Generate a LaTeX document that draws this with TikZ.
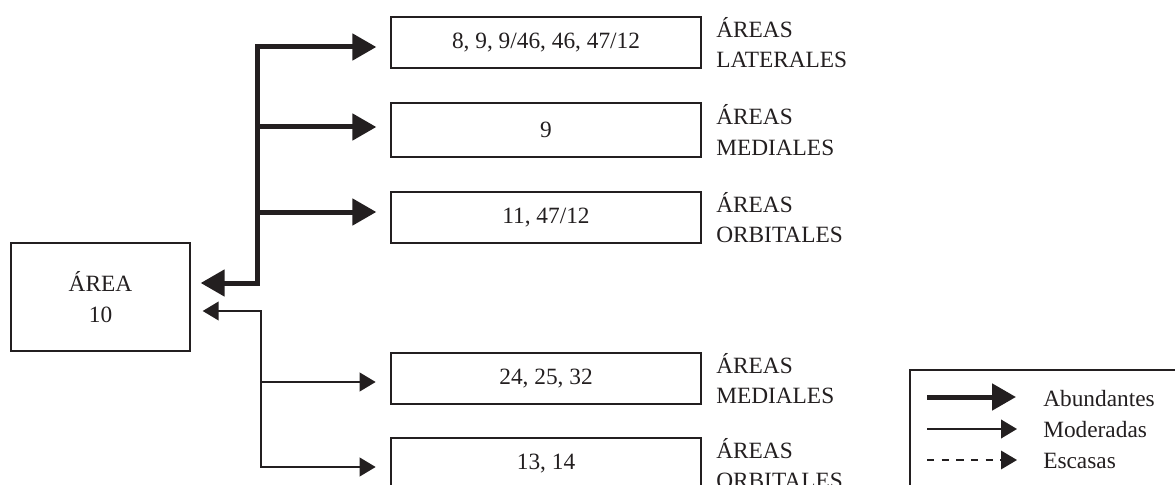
\documentclass[tikz,border=0pt]{standalone}
\usepackage{fontspec}
\setmainfont{Liberation Serif}
\usetikzlibrary{arrows.meta}
\definecolor{ink}{RGB}{35,31,32}
\begin{document}
\begin{tikzpicture}[x=0.75pt,y=-0.75pt,
  every node/.style={font=\fontsize{17.5}{23}\selectfont, text=ink},
  areabox/.style={draw=ink, line width=1pt, minimum width=232.5pt, minimum height=38.25pt, inner sep=0pt},
  lbl/.style={anchor=west, align=left, inner sep=0pt},
  legtext/.style={anchor=west, inner sep=0pt},
  bigtip/.tip={Triangle[length=18pt,width=19.5pt]},
  smalltip/.tip={Triangle[length=12pt,width=14pt]},
  abund/.style={draw=ink, line width=3.75pt, line join=miter},
  moder/.style={draw=ink, line width=1.5pt, line join=miter},
  escas/.style={draw=ink, line width=0.9pt, dash pattern=on 5.5pt off 5.5pt},
]
\useasboundingbox (0,0) rectangle (1175,485);
\clip (0,0) rectangle (1175,485);

% source node
\node[draw=ink, line width=1pt, minimum width=134.25pt, minimum height=81pt, align=center, inner sep=0pt] (a10) at (100.5,297) {ÁREA\\10};

% target boxes
\node[areabox] (b1) at (546,42.5) {8, 9, 9/46, 46, 47/12};
\node[areabox, minimum height=40.5pt] (b2) at (546,130) {9};
\node[areabox] (b3) at (546,217.5) {11, 47/12};
\node[areabox] (b4) at (546,378.5) {24, 25, 32};
\node[areabox] (b5) at (546,463.5) {13, 14};

% side labels
\node[lbl] (l1) at (716,42.5) {ÁREAS\\LATERALES};
\node[lbl] (l2) at (716,130) {ÁREAS\\MEDIALES};
\node[lbl] (l3) at (716,217.5) {ÁREAS\\ORBITALES};
\node[lbl] (l4) at (716,378.5) {ÁREAS\\MEDIALES};
\node[lbl] (l5) at (716,463.5) {ÁREAS\\ORBITALES};

% junction points
\coordinate (j1) at (257,47);
\coordinate (j2) at (257,127);
\coordinate (j3) at (257,212);
\coordinate (j0) at (257,283);
\coordinate (k0) at (261,311);
\coordinate (k1) at (261,382);
\coordinate (k2) at (261,467);

% abundant connections
\draw[abund, bigtip-bigtip, shorten <=10.5pt, shorten >=7.5pt] (b1.west |- j1) -- (j1) -- (j0) -- (a10.east |- j0);
\draw[abund, -bigtip, shorten >=10.5pt] (j2) -- (b2.west |- j2);
\draw[abund, -bigtip, shorten >=10.5pt] (j3) -- (b3.west |- j3);

% moderate connections
\draw[moder, smalltip-smalltip, shorten <=11pt, shorten >=9pt] (b5.west |- k2) -- (k2) -- (k0) -- (a10.east |- k0);
\draw[moder, -smalltip, shorten >=11pt] (k1) -- (b4.west |- k1);

% legend
\draw[draw=ink, line width=1pt] (910,370) rectangle (1200,520);
\coordinate (la0) at (927,397);
\coordinate (la1) at (1016,397);
\coordinate (lm0) at (927,429);
\coordinate (lm1) at (1017,429);
\coordinate (le0) at (927,460);
\coordinate (le1) at (1017,460);
\draw[abund, -bigtip] (la0) -- (la1);
\draw[moder, -smalltip] (lm0) -- (lm1);
\draw[escas, -{Triangle[length=12pt,width=14pt]}] (le0) -- (le1);
\node[legtext] (ta) at (1043,399) {Abundantes};
\node[legtext] (tm) at (1043,430) {Moderadas};
\node[legtext] (te) at (1043,461) {Escasas};
\end{tikzpicture}
\end{document}
